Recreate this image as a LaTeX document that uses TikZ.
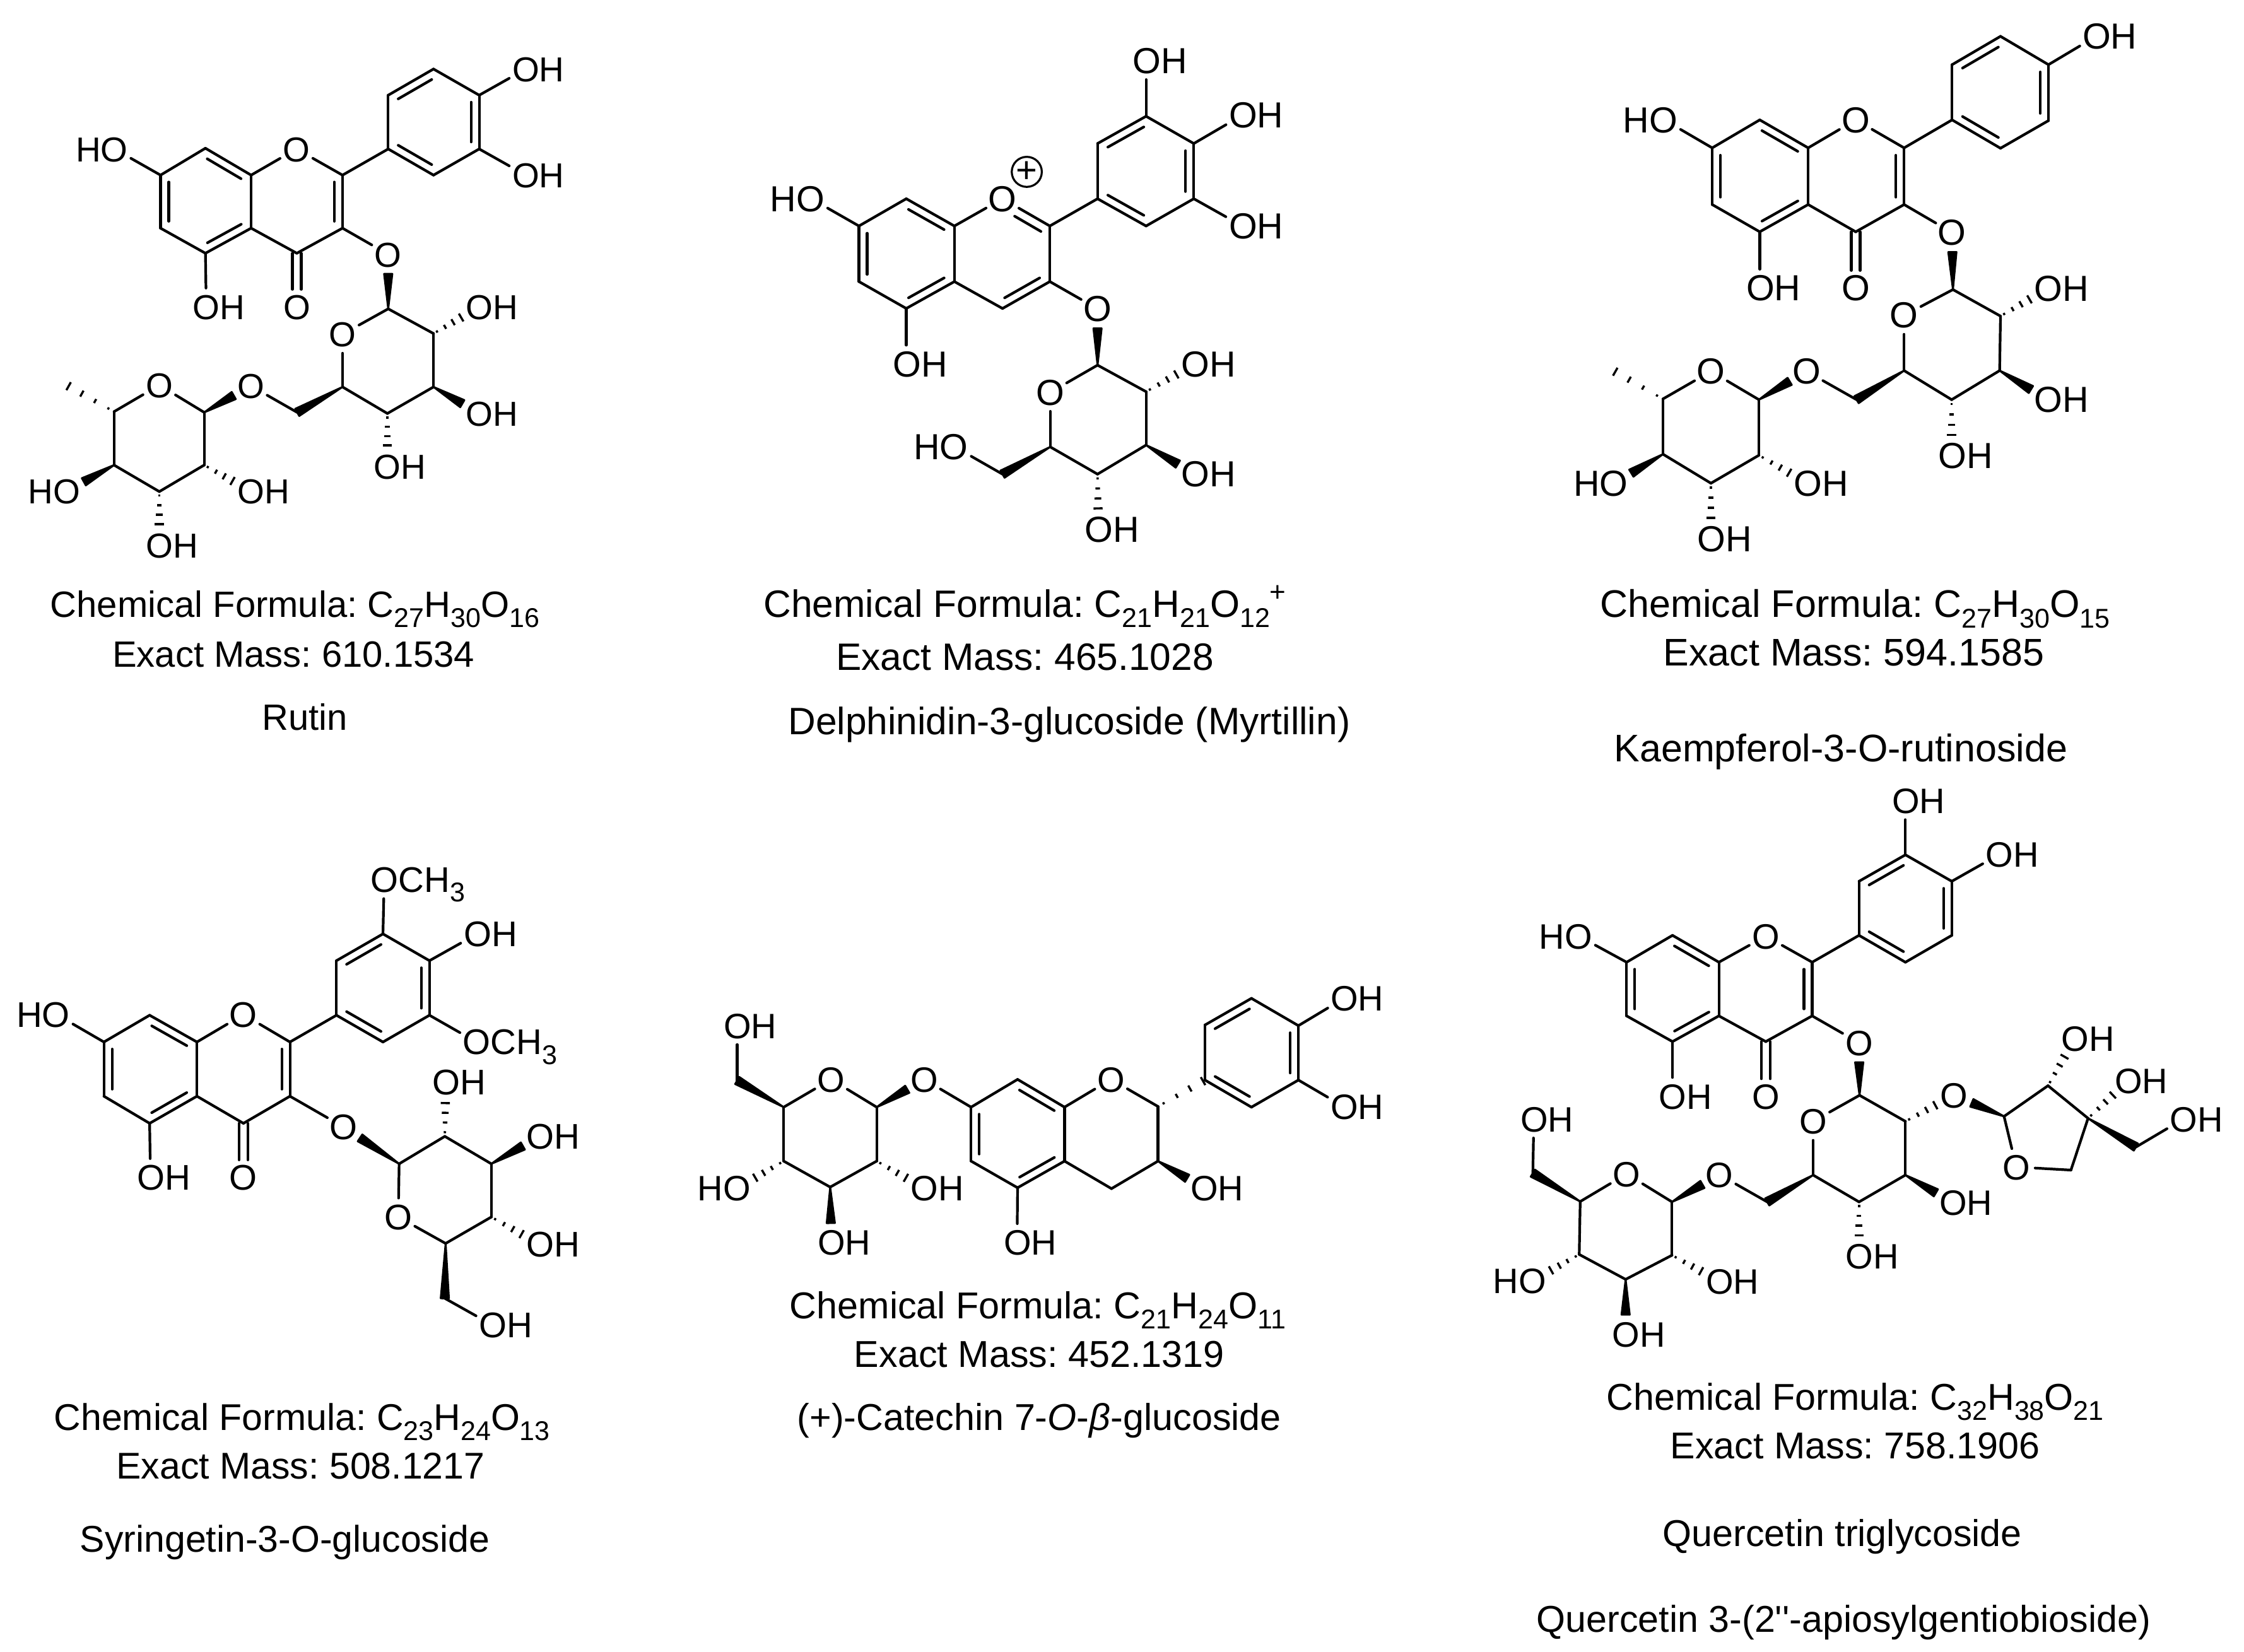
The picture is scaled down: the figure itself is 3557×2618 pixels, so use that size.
\documentclass[tikz,border=0pt]{standalone}
\usepackage{fontspec}
\setmainfont{Liberation Sans}
\newfontfamily\rawf{Liberation Sans}
\usetikzlibrary{calc}
\def\asz{56pt}
\tikzset{
  bond/.style={line width=4.2pt,line cap=round,line join=round,black},
  hashbar/.style={line width=3.4pt,black},
  atom/.style={inner sep=0pt,font=\fontsize{\asz}{66pt}\selectfont,text=black},
  caption/.style={inner sep=0pt,anchor=base,yshift=-21pt,font=\fontsize{#1pt}{70pt}\selectfont\frenchspacing,text=black},
  charge/.style={circle,draw,line width=3.2pt,minimum size=40pt,inner sep=0pt,font=\fontsize{58pt}{58pt}\selectfont}
}
\newcommand{\sbs}[1]{\raisebox{-.27em}{\fontsize{43pt}{43pt}\selectfont #1}}
\newcommand{\sps}[1]{\raisebox{.42em}{\fontsize{44pt}{44pt}\selectfont #1}}
\newcommand{\atoms}[1]{\foreach \nm/\xx/\yy in {#1} {\coordinate (\nm) at (\xx,\yy);}}
\newcommand{\lOH}[1]{\foreach \nm/\xx/\yy in {#1} {\coordinate (\nm) at (\xx,\yy);
  \node[atom,anchor=base west,xshift=-21.4pt,yshift=-20pt] (t\nm) at (\nm) {OH};}}
\newcommand{\lHO}[1]{\foreach \nm/\xx/\yy in {#1} {\coordinate (\nm) at (\xx,\yy);
  \node[atom,anchor=base east,xshift=21.4pt,yshift=-20pt] (t\nm) at (\nm) {HO};}}
\newcommand{\lOx}[1]{\foreach \nm/\xx/\yy in {#1} {\coordinate (\nm) at (\xx,\yy);
  \node[atom,anchor=base,yshift=-20pt] (t\nm) at (\nm) {O};}}
\newcommand{\lOMe}[1]{\foreach \nm/\xx/\yy in {#1} {\coordinate (\nm) at (\xx,\yy);
  \node[atom,anchor=base west,xshift=-21.4pt,yshift=-20pt] (t\nm) at (\nm) {OCH\sbs{3}};}}
\newcommand{\bonds}[1]{\foreach \pp/\qq in {#1} {\draw[bond] (\pp) -- (\qq);}}
\newcommand{\hets}[1]{\foreach \pp/\qq in {#1} {\draw[bond,shorten >=30pt] (\pp) -- (\qq);}}
\newcommand{\dbls}[1]{\foreach \pp/\qq in {#1} {\draw[bond] ($(\pp)!0.13!(\qq)!13pt!90:(\qq)$) -- ($(\qq)!0.13!(\pp)!13pt!-90:(\pp)$);}}
\newcommand{\wdgn}[2]{\filldraw[black,line width=3pt,line join=round] ($(#2)!6.5pt!90:(#1)$) -- ($(#2)!6.5pt!-90:(#1)$) -- (#1) -- cycle;}
\newcommand{\wedges}[1]{\foreach \pp/\qq in {#1} {\coordinate (wE) at ($(\qq)!31pt!(\pp)$); \wdgn{\pp}{wE}}}
\newcommand{\wedgec}[1]{\foreach \pp/\qq in {#1} {\wdgn{\pp}{\qq}}}
\newcommand{\hshn}[2]{\foreach \ff/\hw in {0.12/1.8,0.4/3.6,0.68/5.4,0.96/7.2} {\draw[hashbar] ($(#1)!\ff!(#2)!\hw pt!90:(#2)$) -- ($(#1)!\ff!(#2)!\hw pt!-90:(#2)$);}}
\newcommand{\hashes}[1]{\foreach \pp/\qq in {#1} {\coordinate (hE) at ($(\qq)!31pt!(\pp)$); \hshn{\pp}{hE}}}
\newcommand{\hashc}[1]{\foreach \pp/\qq in {#1} {\hshn{\pp}{\qq}}}
\newcommand{\carbonyl}[2]{\coordinate (cE) at ($(#2)!28pt!(#1)$);
  \draw[bond] ($(#1)!7pt!90:(#2)$) -- ($(cE)!7pt!-90:(#1)$);
  \draw[bond] ($(#1)!7pt!-90:(#2)$) -- ($(cE)!7pt!90:(#1)$);}
\newcommand{\flavcore}{%
  \bonds{a1/a2,a2/a3,a3/a4,a4/a5,a5/a6,a6/a1,a4/c4,c4/c3,c3/c2,c2/b1,b1/b2,b2/b3,b3/b4,b4/b5,b5/b6,b6/b1}
  \hets{a3/o1,c2/o1}
  \dbls{a3/a2,a1/a6,a5/a4,b3/b2,b5/b4,b1/b6}}
\begin{document}
\begin{tikzpicture}
\useasboundingbox (0pt,0pt) rectangle (3557pt,-2618pt);
\fill[white] (0pt,0pt) rectangle (3557pt,-2618pt);

% ---------- Rutin
\def\asz{55pt}
\begin{scope}[name prefix=ma-,shift={(0pt,0pt)},x=0.641pt,y=-0.576pt]
\atoms{a1/397/482,a2/508/408,a3/621/482,a4/621/628,a5/508/697,a6/397/628,c2/847/482,c3/847/628,c4/734/697,
  b1/960/410,b2/960/262,b3/1072/190,b4/1185/262,b5/1185/410,b6/1072/482,
  s1/960/850,s2/1072/918,s3/1072/1065,s4/958/1138,s5/847/1065,s6/735/1135,
  t1/505/1135,t5/282/1133,t4/282/1280,t3/394/1353,t2/505/1280,me/165/1060}
\lOx{o1/733/410,oc/734/845,o3/960/700,o5/847/920,ol/620/1062,or/394/1060}
\lHO{h7/283/410,h4/165/1352}
\lOH{h5/510/845,h3/1300/190,h2/1300/482,g2/1185/845,g3/1185/1138,g4/958/1283,f2/620/1352,f3/394/1500}
\flavcore
\dbls{c3/c2}
\carbonyl{c4}{oc}
\hets{a1/h7,a5/h5,b4/h3,b5/h2,c3/o3,s1/o5,s5/o5,s6/ol,t1/or,t5/or}
\bonds{s1/s2,s2/s3,s3/s4,s4/s5,t5/t4,t4/t3,t3/t2,t2/t1}
\wedges{s1/o3,s3/g3,t1/ol,t4/h4}
\wedgec{s5/s6}
\hashes{s2/g2,s4/g4,t2/f2,t3/f3}
\hashc{t5/me}
\end{scope}

% ---------- Myrtillin
\def\asz{57.5pt}
\begin{scope}[name prefix=mb-,shift={(1150pt,0pt)},x=0.641pt,y=-0.576pt]
\atoms{a1/330/622,a2/447/547,a3/566/622,a4/566/775,a5/447/849,a6/330/775,c2/802/622,c3/802/775,c4/685/849,
  b1/920/547,b2/920/395,b3/1040/320,b4/1158/395,b5/1158/547,b6/1040/622,
  s1/920/1005,s2/1040/1078,s3/1040/1225,s4/920/1305,s5/803/1230,s6/685/1305,i1/715/595,i2/780/637}
\lOx{o1/685/547,o3/920/850,o5/803/1080}
\lHO{h7/212/547,g6/567/1230}
\lOH{h5/447/1002,h3/1040/167,h4/1278/317,h2/1278/622,g2/1160/1002,g3/1160/1305,g4/922/1457}
\flavcore
\dbls{c4/c3}
\bonds{i1/i2,s1/s2,s2/s3,s3/s4,s4/s5}
\node[charge,minimum size=43pt] (plus) at (745,473) {+};
\hets{a1/h7,a5/h5,b3/h3,b4/h4,b5/h2,c3/o3,s1/o5,s5/o5,s6/g6}
\wedges{s1/o3,s3/g3}
\wedgec{s5/s6}
\hashes{s2/g2,s4/g4}
\end{scope}

% ---------- Kaempferol-3-O-rutinoside
\def\asz{57.5pt}
\begin{scope}[name prefix=mc-,shift={(2500pt,0pt)},x=0.673pt,y=-0.576pt]
\atoms{a1/318/407,a2/430/330,a3/544/407,a4/544/563,a5/430/638,a6/318/563,c2/770/407,c3/770/563,c4/656/638,
  b1/883/330,b2/883/178,b3/997/100,b4/1110/178,b5/1110/332,b6/997/408,
  s1/885/797,s2/997/870,s3/995/1020,s4/882/1100,s5/770/1020,s6/658/1100,
  t1/428/1100,t5/202/1098,t4/202/1250,t3/315/1330,t2/428/1253,me/85/1020}
\lOx{o1/656/330,oc/656/793,o3/883/640,o5/770/868,ol/540/1022,or/315/1022}
\lHO{h7/205/330,h4/88/1330}
\lOH{h5/430/793,h3/1222/100,g2/1108/795,g3/1108/1100,g4/882/1255,f2/542/1330,f3/315/1483}
\flavcore
\dbls{c3/c2}
\carbonyl{c4}{oc}
\hets{a1/h7,a5/h5,b4/h3,c3/o3,s1/o5,s5/o5,s6/ol,t1/or,t5/or}
\bonds{s1/s2,s2/s3,s3/s4,s4/s5,t5/t4,t4/t3,t3/t2,t2/t1}
\wedges{s1/o3,s3/g3,t1/ol,t4/h4}
\wedgec{s5/s6}
\hashes{s2/g2,s4/g4,t2/f2,t3/f3}
\hashc{t5/me}
\end{scope}

% ---------- Syringetin-3-O-glucoside
\def\asz{56.5pt}
\begin{scope}[name prefix=md-,shift={(0pt,-1350pt)},x=0.641pt,y=-0.544pt]
\atoms{a1/257/555,a2/370/477,a3/487/555,a4/487/713,a5/370/792,a6/257/713,c2/717/555,c3/717/713,c4/602/792,
  b1/832/477,b2/832/318,b3/947/240,b4/1062/318,b5/1062/477,b6/947/555,
  s1/987/910,s2/1100/830,s3/1215/910,s4/1215/1065,s5/1102/1142,s6/1100/1302}
\lOx{o1/602/475,oc/602/950,o3/850/803,o5/985/1065}
\lHO{h7/140/475}
\lOH{h5/372/950,h4/1180/240,g2/1102/672,g3/1335/830,g4/1335/1145,g6/1218/1380}
\lOMe{h3/950/82,h2/1178/555}
\flavcore
\dbls{c3/c2}
\carbonyl{c4}{oc}
\hets{a1/h7,a5/h5,b3/h3,b4/h4,b5/h2,c3/o3,s1/o5,s5/o5,s6/g6}
\bonds{s1/s2,s2/s3,s3/s4,s4/s5}
\wedges{s1/o3,s3/g3}
\wedgec{s5/s6}
\hashes{s2/g2,s4/g4}
\end{scope}

% ---------- Catechin glucoside
\def\asz{56pt}
\begin{scope}[name prefix=me-,shift={(1100pt,-1500pt)},x=0.737pt,y=-0.352pt]
\atoms{p1/193/725,p2/393/725,p3/393/968,p4/293/1085,p5/193/968,p6/93/605,
  q1/596/725,q2/696/600,q3/797/725,q4/797/968,q5/696/1088,q6/596/968,c2/998/722,c3/998/968,c4/898/1092,
  b1/1099/603,b2/1099/355,b3/1199/235,b4/1300/358,b5/1300/603,b6/1199/725}
\lOx{or/295/600,ol/495/600,o1/897/600}
\lHO{g5/93/1090}
\lOH{g6/93/358,g3/495/1090,g4/295/1335,h5/695/1335,h3/1097/1090,h4/1398/235,h2/1398/723}
\bonds{q1/q2,q2/q3,q3/q4,q4/q5,q5/q6,q6/q1,q4/c4,c4/c3,c3/c2,b1/b2,b2/b3,b3/b4,b4/b5,b5/b6,b6/b1,p2/p3,p3/p4,p4/p5,p5/p1}
\hets{q3/o1,c2/o1,p1/or,p2/or,q1/ol,p6/g6,q5/h5,b4/h4,b5/h2}
\dbls{q3/q2,q1/q6,q5/q4,b3/b2,b5/b4,b1/b6}
\wedges{p2/ol,p4/g4,c3/h3}
\wedgec{p1/p6}
\hashes{p5/g5,p3/g3}
\hashc{c2/b1}
\end{scope}

% ---------- Quercetin triglycoside
\def\asz{56pt}
\begin{scope}[name prefix=mf-,shift={(2350pt,-1250pt)},x=0.774pt,y=-0.608pt]
\atoms{a1/295/453,a2/389/383,a3/484/453,a4/484/593,a5/389/660,a6/295/593,c2/675/453,c3/675/593,c4/580/660,
  b1/771/383,b2/771/242,b3/866/173,b4/961/242,b5/961/383,b6/866/453,
  s1/772/800,s2/866/868,s3/866/1008,s4/771/1078,s5/677/1008,s6/583/1078,
  t1/388/1078,t5/200/1077,t4/198/1215,t3/293/1280,t2/388/1217,t6/103/1003,
  u1/1068/855,u2/1158/775,u3/1240/860,u4/1205/995,u5/1338/935}
\lOx{o1/580/385,oc/580/803,o3/771/663,o5/677/868,oa/965/800,ol/485/1007,or/295/1005,ou/1093/987}
\lHO{h7/197/385,f4/103/1283}
\lOH{h5/389/803,h3/866/32,h4/1058/172,g3/963/1080,g4/771/1220,f6/105/862,f2/485/1285,f3/293/1423,e2/1213/652,e3/1322/762,e5/1435/862}
\flavcore
\dbls{c3/c2}
\carbonyl{c4}{oc}
\hets{a1/h7,a5/h5,b3/h3,b4/h4,c3/o3,s1/o5,s5/o5,s6/ol,t1/or,t5/or,t6/f6,u5/e5,u4/ou,u1/ou}
\bonds{s1/s2,s2/s3,s3/s4,s4/s5,t5/t4,t4/t3,t3/t2,t2/t1,u1/u2,u2/u3,u3/u4}
\wedges{s1/o3,s3/g3,t1/ol,t3/f3,u1/oa}
\wedgec{s5/s6,t5/t6,u3/u5}
\hashes{s2/oa,s4/g4,t2/f2,t4/f4,u2/e2,u3/e3}
\end{scope}

% ---------- Captions
\begin{scope}[x=2.269pt,y=-2.269pt]
\node[caption=58] (ca1) at (206,422) {Chemical Formula: C\sbs{27}H\sbs{30}O\sbs{16}};
\node[caption=58] (ca2) at (205,457) {Exact Mass: 610.1534};
\node[caption=58] (ca3) at (213,501) {Rutin};
\node[caption=60.5] (cb1) at (716,422) {Chemical Formula: C\sbs{21}H\sbs{21}O\sbs{12}\sps{+}};
\node[caption=60.5] (cb2) at (716,459) {Exact Mass: 465.1028};
\node[caption=60.5] (cb3) at (747,504) {Delphinidin-3-glucoside (Myrtillin)};
\node[caption=61] (cc1) at (1296,422) {Chemical Formula: C\sbs{27}H\sbs{30}O\sbs{15}};
\node[caption=61] (cc2) at (1295,456) {Exact Mass: 594.1585};
\node[caption=61] (cc3) at (1286,523) {Kaempferol-3-O-rutinoside};
\node[caption=59] (cd1) at (211,990) {Chemical Formula: C\sbs{23}H\sbs{24}O\sbs{13}};
\node[caption=59] (cd2) at (210,1024) {Exact Mass: 508.1217};
\node[caption=59] (cd3) at (199,1075) {Syringetin-3-O-glucoside};
\node[caption=59.3] (ce1) at (725,912) {Chemical Formula: C\sbs{21}H\sbs{24}O\sbs{11}};
\node[caption=59.3] (ce2) at (726,946) {Exact Mass: 452.1319};
\node[caption=59.3] (ce3) at (726,990) {(+)-Catechin 7-\textit{O}-\textit{β}-glucoside};
\node[caption=59.2] (cf1) at (1296,976) {Chemical Formula: C\sbs{32}H\sbs{38}O\sbs{21}};
\node[caption=59.2] (cf2) at (1296,1010) {Exact Mass: 758.1906};
\node[caption=59.2] (cf3) at (1287,1071) {Quercetin triglycoside};
\node[caption=59.2] (cf4) at (1288,1131) {Quercetin 3-(2{\rawf ''}-apiosylgentiobioside)};
\end{scope}
\end{tikzpicture}
\end{document}
